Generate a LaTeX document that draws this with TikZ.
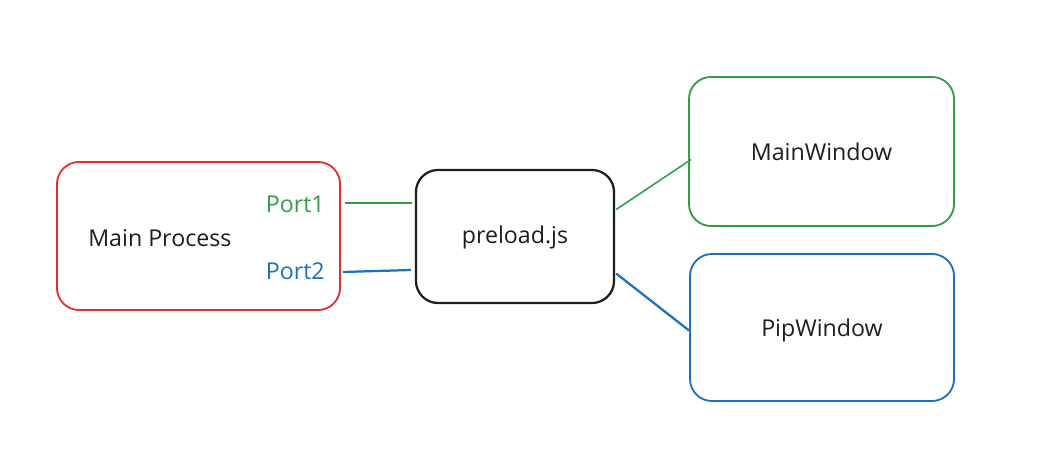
\documentclass[tikz,border=0pt]{standalone}
\usepackage{fontspec}
\setmainfont{Open Sans}
\usetikzlibrary{positioning,calc}
\definecolor{exred}{HTML}{E03131}
\definecolor{exgreen}{HTML}{2F9E44}
\definecolor{exblue}{HTML}{1971C2}
\definecolor{exblack}{HTML}{1E1E1E}
\tikzset{
  procbox/.style={draw, line width=1.3pt, rounded corners=0.55cm, fill=white},
  txt/.style={font=\fontsize{16.5}{19}\selectfont, text=exblack},
}
\begin{document}
\begin{tikzpicture}[x=0.025cm,y=-0.025cm]
            \useasboundingbox (0,0) rectangle (1042,466);
            \node[procbox, draw=exred, minimum width=7.075cm, minimum height=3.7cm] (mainproc) at (198.5,236) {};
            \node[procbox, draw=exblack, line width=1.6pt, minimum width=4.95cm, minimum height=3.325cm] (preload) at (515,236.5) {};
            \node[procbox, draw=exgreen, minimum width=6.625cm, minimum height=3.725cm] (mainwin) at (821.5,151.5) {};
            \node[procbox, draw=exblue, minimum width=6.6cm, minimum height=3.675cm] (pipwin) at (822,327.5) {};

            \node[txt, anchor=west, inner sep=0pt] (mainlbl) at (88,238) {Main Process};
            \node[txt, text=exgreen, anchor=east, inner sep=0pt] (port1) at (325,204) {Port1};
            \node[txt, text=exblue, anchor=east, inner sep=0pt] (port2) at (325,271) {Port2};
            \node[txt] (preloadlbl) at ($(preload)+(0,1)$) {preload.js};
            \node[txt] (mainwinlbl) at (mainwin) {MainWindow};
            \node[txt] (pipwinlbl) at ($(pipwin)+(0,3)$) {PipWindow};

            \draw[exgreen, line width=1.1pt] ($(mainproc.east |- port1)+(4,-1)$) -- ($(preload.west |- port1)+(-3,-1)$);
            \draw[exblue, line width=1.6pt] ($(mainproc.east |- port2)+(2,1)$) -- ($(preload.west |- port2)+(-4,-1)$);
            \draw[exgreen, line width=1.1pt] ($(preload.east)+(1,-27)$) -- ($(mainwin.west)+(3,8)$);
            \draw[exblue, line width=1.6pt] ($(preload.east)+(1,37)$) -- ($(pipwin.west)+(0,3)$);
        \end{tikzpicture}
\end{document}
